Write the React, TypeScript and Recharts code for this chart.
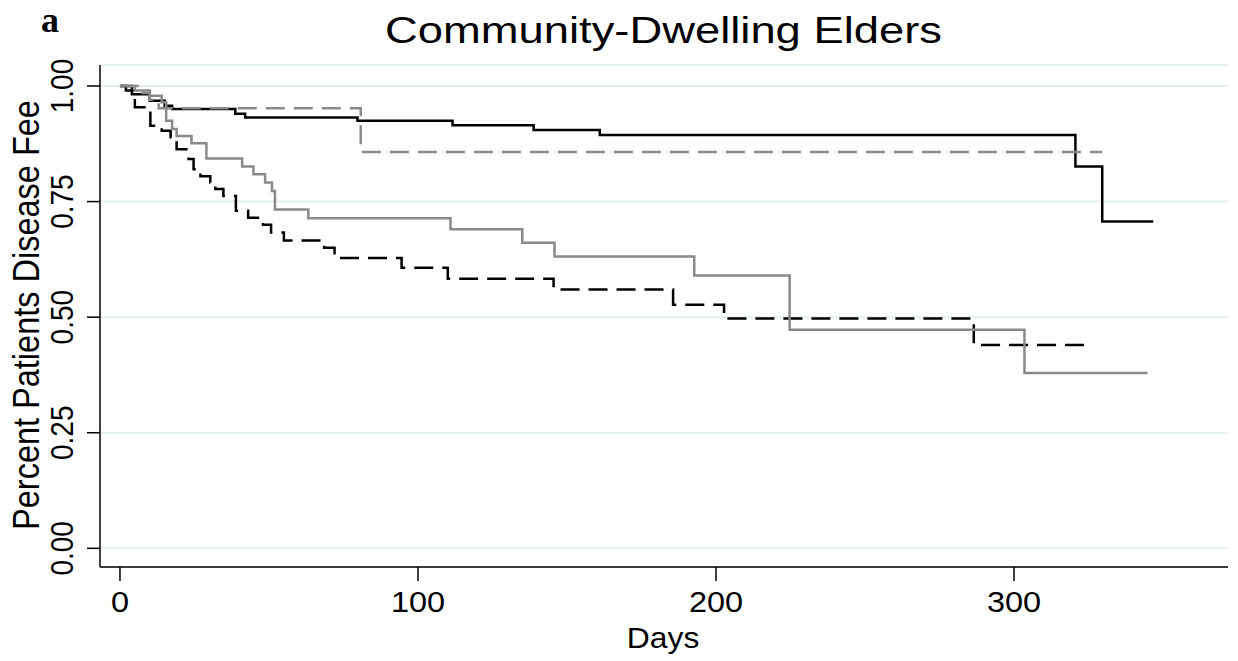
import React from "react";
import { LineChart, Line, XAxis, YAxis, CartesianGrid } from "recharts";

// Kaplan-Meier style step curves: [day, proportion disease free]
const blackSolid: [number, number][] = [
  [0, 1], [4, 0.982], [10, 0.968], [15, 0.957], [17.5, 0.95], [38.7, 0.94], [42, 0.932],
  [79.7, 0.925], [111.6, 0.915], [138.8, 0.905], [161, 0.894], [320.6, 0.826],
  [329.6, 0.707], [346.7, 0.707],
];
const grayDashed: [number, number][] = [
  [0, 1], [6, 0.985], [10, 0.97], [13, 0.952], [80.8, 0.857], [329.6, 0.857],
];
const graySolid: [number, number][] = [
  [0, 1], [5, 0.99], [10, 0.979], [14, 0.965], [15.5, 0.925], [17.5, 0.907], [19, 0.892],
  [24, 0.876], [29, 0.843], [41, 0.826], [44.8, 0.809], [48.7, 0.791], [51, 0.773],
  [52, 0.733], [63.2, 0.714], [110.9, 0.69], [135, 0.661], [145.8, 0.631], [192.7, 0.59],
  [224.7, 0.473], [303.5, 0.379], [344.8, 0.379],
];
const blackDashed: [number, number][] = [
  [0, 1], [2, 0.99], [5, 0.954], [10.2, 0.914], [14, 0.903], [17, 0.889], [19, 0.863],
  [23, 0.842], [24.7, 0.82], [27, 0.805], [30.3, 0.791], [32, 0.777], [34.7, 0.762],
  [38.9, 0.73], [43, 0.715], [48, 0.7], [50.7, 0.683], [55, 0.666], [68.5, 0.65],
  [72, 0.628], [94.5, 0.607], [110, 0.583], [145.5, 0.56], [185.6, 0.527],
  [202.7, 0.497], [286.5, 0.44], [325, 0.44],
];

const xTicks = [0, 100, 200, 300];
const yTicks = [0, 0.25, 0.5, 0.75, 1];

const toRows = (pts: [number, number][]) => pts.map(([day, v]) => ({ day, v }));

const FONT = "'Liberation Sans', Arial, Helvetica, sans-serif";
const GRAY = "#8a8a8a";

const XTick = (props: any) => {
  const { x, payload } = props;
  return (
    <text transform={`translate(${x}, 612) scale(1.12, 1)`} textAnchor="middle" fontSize={29} fontFamily={FONT} fill="#000">
      {payload.value}
    </text>
  );
};

const YTick = (props: any) => {
  const { y, payload } = props;
  return (
    <text transform={`translate(73, ${y}) rotate(-90) scale(1, 1.1)`} textAnchor="middle" fontSize={28} fontFamily={FONT} fill="#000">
      {Number(payload.value).toFixed(2)}
    </text>
  );
};

export default function App() {
  return (
    <div style={{ position: "absolute", left: 0, top: 0, background: "#fff" }}>
      <LineChart width={1238} height={661} margin={{ top: 65, right: 10, bottom: 0, left: 0 }}>
        <CartesianGrid vertical={false} stroke="#e4eef0" strokeWidth={2} />
        <XAxis
          type="number"
          dataKey="day"
          domain={[-6.7, 371.8]}
          ticks={xTicks}
          allowDataOverflow
          height={94}
          tickSize={14}
          tick={<XTick />}
          axisLine={{ stroke: "#000", strokeWidth: 1.5 }}
          tickLine={{ stroke: "#000", strokeWidth: 1.5 }}
        />
        <YAxis
          type="number"
          domain={[-0.0404, 1.0454]}
          ticks={yTicks}
          allowDataOverflow
          width={100}
          tickSize={13}
          tick={<YTick />}
          axisLine={{ stroke: "#000", strokeWidth: 1.5 }}
          tickLine={{ stroke: "#000", strokeWidth: 1.5 }}
        />
        <Line data={toRows(blackSolid)} dataKey="v" type="stepAfter" stroke="#000" strokeWidth={2.5} dot={false} isAnimationActive={false} />
        <Line data={toRows(blackDashed)} dataKey="v" type="stepAfter" stroke="#000" strokeWidth={2.5} strokeDasharray="19 9" dot={false} isAnimationActive={false} />
        <Line data={toRows(graySolid)} dataKey="v" type="stepAfter" stroke={GRAY} strokeWidth={2.5} dot={false} isAnimationActive={false} />
        <Line data={toRows(grayDashed)} dataKey="v" type="stepAfter" stroke={GRAY} strokeWidth={2.5} strokeDasharray="19 9" dot={false} isAnimationActive={false} />
        <text x={41} y={32} fontSize={36} fontWeight="bold" fontFamily="'Liberation Serif', 'Times New Roman', serif" fill="#000">a</text>
        <text x={385} y={43} fontSize={36} textLength={557} lengthAdjust="spacingAndGlyphs" fontFamily={FONT} fill="#000">
          Community-Dwelling Elders
        </text>
        <text transform="translate(663, 648) scale(1.1, 1)" textAnchor="middle" fontSize={29} fontFamily={FONT} fill="#000">Days</text>
        <text transform="translate(39, 315) rotate(-90) scale(1, 1.15)" textAnchor="middle" fontSize={32.5} fontFamily={FONT} fill="#000">
          Percent Patients Disease Fee
        </text>
      </LineChart>
    </div>
  );
}
